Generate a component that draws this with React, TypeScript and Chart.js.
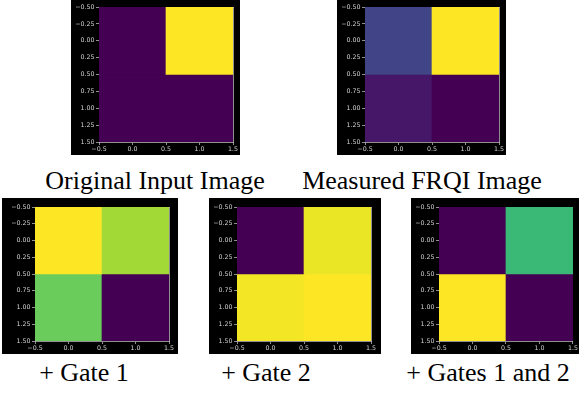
import React, { useEffect, useRef } from "react";
import { Chart, registerables } from "chart.js";

Chart.register(...registerables);

// ---- data ----
const COLUMNS = ["0", "1"];
const ROW_EDGES = [-0.5, 0.5, 1.5];
const X_TICK_VALUES = [-0.5, 0, 0.5, 1, 1.5];
const X_TICKS = ["\u22120.5", "0.0", "0.5", "1.0", "1.5"];
const Y_TICK_VALUES = [-0.5, -0.25, 0, 0.25, 0.5, 0.75, 1, 1.25, 1.5];
const Y_TICKS = ["\u22120.50", "\u22120.25", "0.00", "0.25", "0.50", "0.75", "1.00", "1.25", "1.50"];

const originalValues = [
  [0, 1],
  [0, 0],
];
const measuredValues = [
  [0.2, 1],
  [0.06, 0],
];
const gate1Values = [
  [1, 0.86],
  [0.77, 0],
];
const gate2Values = [
  [0, 0.97],
  [0.985, 1],
];
const gates12Values = [
  [0, 0.67],
  [1, 0],
];

const CAPTIONS = [
  "Original Input Image",
  "Measured FRQI Image",
  "+ Gate 1",
  "+ Gate 2",
  "+ Gates 1 and 2",
];

// viridis colormap stops
const VIRIDIS = [
  [68, 1, 84],
  [72, 36, 117],
  [65, 68, 135],
  [53, 95, 141],
  [42, 120, 142],
  [33, 145, 140],
  [34, 168, 132],
  [68, 191, 112],
  [122, 209, 81],
  [189, 223, 38],
  [253, 231, 37],
];

function viridis(t: number): string {
  const v = Math.max(0, Math.min(1, t)) * (VIRIDIS.length - 1);
  const i = Math.min(VIRIDIS.length - 2, Math.floor(v));
  const f = v - i;
  const a = VIRIDIS[i];
  const b = VIRIDIS[i + 1];
  const c = a.map((x, k) => Math.round(x + (b[k] - x) * f));
  return `rgb(${c[0]},${c[1]},${c[2]})`;
}

function lookup(values: number[], labels: string[], v: number): string {
  const i = values.findIndex((x) => Math.abs(x - v) < 1e-6);
  return i >= 0 ? labels[i] : "";
}

const SPINE = "#b4b4b4";
const LABEL = "#d4d4d4";
const TICK_FONT = { family: "DejaVu Sans", size: 6.3 };

type PanelProps = {
  values: number[][];
  left: number;
  top: number;
  width: number;
  height: number;
  insetLeft: number;
  insetTop: number;
  insetRight: number;
  insetBottom: number;
};

const blackBg = {
  id: "blackBg",
  beforeDraw(chart: any) {
    const { ctx, width, height } = chart;
    ctx.save();
    ctx.fillStyle = "#000";
    ctx.fillRect(0, 0, width, height);
    ctx.restore();
  },
};

function Panel(p: PanelProps) {
  const ref = useRef<HTMLCanvasElement | null>(null);
  useEffect(() => {
    if (!ref.current) return;
    const datasets = p.values.map((row, r) => ({
      data: row.map(() => [ROW_EDGES[r], ROW_EDGES[r + 1]]),
      backgroundColor: row.map((v) => viridis(v)),
      borderWidth: 0,
      barPercentage: 1,
      categoryPercentage: 1,
      grouped: false,
      xAxisID: "x",
      yAxisID: "y",
    }));
    const chart = new Chart(ref.current, {
      type: "bar",
      data: { labels: COLUMNS, datasets: datasets as any },
      plugins: [blackBg],
      options: {
        animation: false,
        responsive: false,
        events: [],
        layout: {
          padding: { left: 0, top: p.insetTop, right: p.insetRight, bottom: 0 },
        },
        plugins: {
          legend: { display: false },
          tooltip: { enabled: false },
          title: { display: false },
        },
        scales: {
          x: {
            type: "category",
            offset: true,
            display: false,
          },
          y: {
            type: "linear",
            position: "left",
            reverse: true,
            min: -0.5,
            max: 1.5,
            ticks: {
              stepSize: 0.25,
              color: LABEL,
              font: TICK_FONT,
              padding: 1.5,
              autoSkip: false,
              callback: (v: any) => lookup(Y_TICK_VALUES, Y_TICKS, Number(v)),
            },
            grid: { drawOnChartArea: false, color: SPINE, tickLength: 3, tickWidth: 0.8 },
            border: { color: SPINE, width: 0.8 },
            afterFit: (s: any) => {
              s.width = p.insetLeft;
            },
          },
          xt: {
            type: "linear",
            position: "bottom",
            offset: false,
            min: -0.5,
            max: 1.5,
            ticks: {
              stepSize: 0.5,
              color: LABEL,
              font: TICK_FONT,
              padding: 1,
              maxRotation: 0,
              autoSkip: false,
              callback: (v: any) => lookup(X_TICK_VALUES, X_TICKS, Number(v)),
            },
            grid: { offset: false, drawOnChartArea: false, color: SPINE, tickLength: 3, tickWidth: 0.8 },
            border: { color: SPINE, width: 0.8 },
            afterFit: (s: any) => {
              s.height = p.insetBottom;
            },
          },
          xtop: {
            type: "linear",
            position: "top",
            offset: false,
            min: 0,
            max: 1,
            ticks: { display: false },
            grid: { display: false, offset: false },
            border: { display: true, color: SPINE, width: 0.8 },
            afterFit: (s: any) => {
              s.height = 0;
            },
          },
          yright: {
            type: "linear",
            position: "right",
            min: 0,
            max: 1,
            ticks: { display: false },
            grid: { display: false },
            border: { display: true, color: SPINE, width: 0.8 },
            afterFit: (s: any) => {
              s.width = 0;
            },
          },
        } as any,
      },
    });
    return () => chart.destroy();
  }, []);
  return (
    <canvas
      ref={ref}
      width={p.width}
      height={p.height}
      style={{ position: "absolute", left: p.left, top: p.top, width: p.width, height: p.height }}
    />
  );
}

function Caption({ text, center, top }: { text: string; center: number; top: number }) {
  return (
    <div
      style={{
        position: "absolute",
        left: center - 150,
        width: 300,
        top,
        textAlign: "center",
        fontFamily: "'Liberation Serif', 'Times New Roman', serif",
        fontSize: 26,
        lineHeight: "26px",
        color: "#000",
        whiteSpace: "nowrap",
      }}
    >
      {text}
    </div>
  );
}

export default function App() {
  useEffect(() => {
    document.body.style.margin = "0";
  }, []);
  return (
    <div
      style={{
        position: "absolute",
        left: 0,
        top: 0,
        width: 580,
        height: 395,
        background: "#fff",
        overflow: "hidden",
      }}
    >
      <Panel values={originalValues} left={71} top={0} width={169} height={155}
        insetLeft={28} insetTop={7} insetRight={7} insetBottom={13} />
      <Panel values={measuredValues} left={337} top={0} width={169} height={155}
        insetLeft={28} insetTop={7} insetRight={7} insetBottom={13} />
      <Panel values={gate1Values} left={2} top={198} width={176} height={156}
        insetLeft={33} insetTop={9} insetRight={9} insetBottom={13} />
      <Panel values={gate2Values} left={209} top={198} width={172} height={156}
        insetLeft={28} insetTop={9} insetRight={10} insetBottom={13} />
      <Panel values={gates12Values} left={411} top={198} width={168} height={156}
        insetLeft={28} insetTop={9} insetRight={6} insetBottom={13} />
      <Caption text={CAPTIONS[0]} center={155} top={168} />
      <Caption text={CAPTIONS[1]} center={422} top={168} />
      <Caption text={CAPTIONS[2]} center={84} top={360} />
      <Caption text={CAPTIONS[3]} center={266} top={360} />
      <Caption text={CAPTIONS[4]} center={488} top={360} />
    </div>
  );
}
